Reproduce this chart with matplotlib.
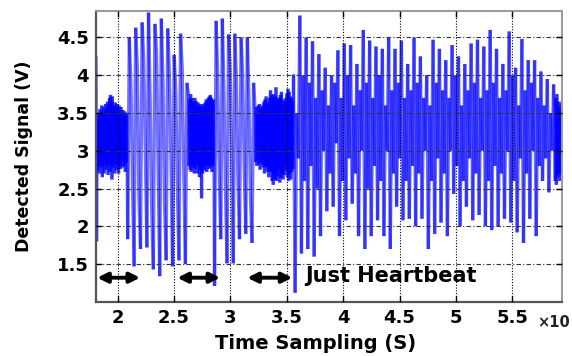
import numpy as np
import matplotlib.pyplot as plt
from matplotlib.collections import LineCollection

# detected signal, stored segment by segment (breathing + heartbeat / heartbeat only)
# each segment: start time, end time (x10 s), sample values in volts
calm1_t = (1.81, 2.09)
calm1_v = [4.25, 1.8, 3.4, 2.75, 3.5, 2.8, 3.45, 2.7, 3.55, 2.85, 3.48, 2.78,
           3.6, 2.65, 3.52, 2.82, 3.58, 2.7, 3.5, 2.9, 3.62, 2.75, 3.55, 2.8,
           3.65, 2.68, 3.6, 2.85, 3.7, 2.72, 3.74, 2.8, 3.66, 2.62, 3.72, 2.78,
           3.6, 2.88, 3.56, 2.7, 3.64, 2.82, 3.58, 2.75, 3.62, 2.9, 3.55, 2.7,
           3.6, 2.8, 3.52, 2.76, 3.58, 2.86, 3.5, 2.78, 3.54, 2.9, 3.48, 2.8,
           3.52, 2.72, 3.46, 2.85, 3.5, 2.8]

active1_t = (2.09, 2.63)
active1_v = [1.83, 4.5, 3.9, 2.6, 1.47, 4.63, 4.1, 2.4, 1.7, 4.7, 4.2, 3.0,
             1.72, 4.83, 3.7, 2.2, 1.43, 4.68, 4.3, 2.8, 1.34, 4.75, 3.9, 2.3,
             1.55, 4.62, 4.0, 2.9, 1.47, 4.27, 3.8, 2.5, 1.55, 4.55, 4.1, 2.7,
             1.5, 3.9]

calm2_t = (2.63, 2.86)
calm2_v = [3.72, 2.8, 3.68, 2.75, 3.75, 2.72, 3.7, 2.82, 3.65, 2.78, 3.62, 2.7,
           3.7, 2.76, 3.66, 2.84, 3.6, 2.7, 3.64, 2.8, 3.58, 2.65, 3.62, 2.75,
           3.6, 2.37, 3.56, 2.7, 3.62, 2.78, 3.58, 2.74, 3.64, 2.8, 3.68, 2.72,
           3.66, 2.82, 3.7, 2.76, 3.72, 2.78, 3.74, 2.85, 3.7, 2.72, 3.66, 2.8,
           3.68, 2.76]

active2_t = (2.86, 3.22)
active2_v = [1.21, 4.72, 4.0, 2.7, 1.83, 4.75, 3.8, 2.5, 1.51, 4.54, 4.1, 2.9,
             1.51, 4.55, 3.9, 2.6, 1.83, 4.5, 4.0, 2.8, 1.9, 4.5, 3.7, 2.4,
             1.78, 3.9]

calm3_t = (3.22, 3.56)
calm3_v = [3.55, 2.85, 3.58, 2.8, 3.5, 2.88, 3.6, 2.82, 3.62, 2.75, 3.55, 2.86,
           3.58, 2.82, 3.6, 2.78, 3.65, 2.7, 3.68, 2.8, 3.72, 2.78, 3.64, 2.72,
           3.6, 2.65, 3.7, 2.75, 3.8, 2.72, 3.74, 2.6, 3.7, 2.55, 3.75, 2.68,
           3.72, 2.62, 3.84, 2.6, 3.7, 2.66, 3.66, 2.75, 3.7, 2.58, 3.74, 2.64,
           3.78, 2.7, 3.68, 2.62, 3.62, 2.68, 3.66, 2.74, 3.7, 2.8, 3.76, 2.65,
           3.82, 2.6, 3.78, 2.7, 3.72, 2.62, 3.7, 2.72, 3.66, 2.76]

# one heartbeat cycle per group of four: peak, trough, secondary peak, secondary dip
active3_t = (3.56, 5.88)
active3_v = [4.01, 1.12, 3.5, 2.9, 4.79, 1.64, 4.0, 2.6, 4.5, 1.7, 3.9, 2.8,
             4.45, 1.6, 3.7, 2.5, 4.28, 1.87, 3.8, 3.0, 4.1, 2.2, 3.6, 2.7,
             4.0, 2.26, 3.9, 3.1, 4.33, 1.87, 3.7, 2.6, 4.42, 2.08, 4.0, 2.9,
             4.4, 2.3, 3.6, 2.7, 4.15, 1.87, 3.8, 3.0, 4.6, 1.7, 3.9, 2.5,
             4.46, 1.87, 3.7, 2.8, 4.38, 2.08, 4.0, 2.6, 4.35, 1.87, 3.6, 3.0,
             4.5, 1.7, 3.8, 2.7, 4.35, 2.26, 3.9, 2.9, 4.46, 2.08, 3.7, 2.6,
             4.15, 2.1, 3.8, 2.8, 4.5, 2.0, 3.9, 2.7, 4.25, 2.1, 3.7, 3.0,
             4.0, 1.7, 3.6, 2.6, 4.47, 1.9, 3.9, 2.9, 4.35, 2.05, 3.8, 2.7,
             4.2, 1.87, 3.7, 3.0, 4.4, 2.43, 4.0, 2.8, 4.25, 2.0, 3.6, 2.6,
             4.15, 2.26, 3.8, 2.9, 4.42, 2.08, 3.9, 2.7, 4.47, 2.15, 3.7, 3.0,
             4.38, 2.0, 3.8, 2.6, 4.6, 1.95, 3.9, 2.8, 4.35, 2.0, 3.7, 2.7,
             4.15, 2.1, 3.8, 3.0, 4.58, 2.05, 4.0, 2.6, 4.1, 1.92, 3.6, 2.9,
             4.48, 1.78, 3.8, 2.7, 4.2, 2.1, 3.9, 3.0, 4.2, 1.87, 3.7, 2.8,
             4.05, 2.6, 3.6, 2.9, 3.95, 2.45, 3.5, 3.0, 3.88]

calm4_t = (5.88, 5.94)
calm4_v = [2.6, 3.7, 2.55, 3.75, 2.65, 3.6, 2.7, 3.65, 2.6, 3.55, 2.68, 3.62]

segments = [(calm1_t, calm1_v), (active1_t, active1_v), (calm2_t, calm2_v),
            (active2_t, active2_v), (calm3_t, calm3_v), (active3_t, active3_v),
            (calm4_t, calm4_v)]

# "just heartbeat" intervals marked with arrows
hb_spans = [(1.82, 2.2), (2.53, 2.91), (3.15, 3.55)]

t_all = []
v_all = []
for (t0, t1), vals in segments:
    t_all.append(np.linspace(t0, t1, len(vals), endpoint=False))
    v_all.append(vals)
t_all = np.concatenate(t_all)
v_all = np.concatenate(v_all)

plt.rcParams['font.family'] = 'DejaVu Sans'
plt.rcParams['font.weight'] = 'bold'

fig = plt.figure(figsize=(5.72, 3.56), dpi=100)
ax = fig.add_axes([0.168, 0.152, 0.8145, 0.817])

# draw sample-to-sample pieces separately so overlapping strokes build up
pts = np.column_stack([t_all, v_all])
pieces = np.stack([pts[:-1], pts[1:]], axis=1)
lc = LineCollection(pieces, colors='#0000ff', linewidths=2.4, alpha=0.55,
                    capstyle='butt', zorder=2)
ax.add_collection(lc)

ax.set_xlim(1.81, 5.94)
ax.set_ylim(1.0, 4.85)
ax.set_xticks([2, 2.5, 3, 3.5, 4, 4.5, 5, 5.5])
ax.set_xticklabels(['2', '2.5', '3', '3.5', '4', '4.5', '5', '5.5'])
ax.set_yticks([1.5, 2, 2.5, 3, 3.5, 4, 4.5])
ax.set_yticklabels(['1.5', '2', '2.5', '3', '3.5', '4', '4.5'])

ax.set_axisbelow(False)
ax.xaxis.grid(True, color='black', linestyle=(0, (1, 1.5)), lw=0.8)
ax.yaxis.grid(True, color='#333333', linestyle=(0, (4, 2, 1, 2)), lw=0.8)

ax.tick_params(direction='in', length=4, width=1, top=True, right=True,
               labelsize=13, pad=5)
for lbl in ax.get_xticklabels() + ax.get_yticklabels():
    lbl.set_fontweight('bold')

for side in ['left', 'bottom']:
    ax.spines[side].set_color('#555555')
    ax.spines[side].set_linewidth(1.6)
for side in ['top', 'right']:
    ax.spines[side].set_color('#999999')
    ax.spines[side].set_linewidth(1.4)

ax.set_xlabel('Time Sampling (S)', fontsize=14, fontweight='bold')
ax.xaxis.set_label_coords(0.47, -0.11)
ax.set_ylabel('Detected Signal (V)', fontsize=12.5, fontweight='bold')
ax.yaxis.set_label_coords(-0.135, 0.5)

# arrows over the heartbeat-only intervals
for a, b in hb_spans:
    ax.annotate('', xy=(a, 1.32), xytext=(b, 1.32),
                arrowprops=dict(arrowstyle='<|-|>', color='black', lw=2.8,
                                mutation_scale=15, shrinkA=0, shrinkB=0),
                zorder=5)
ax.text(3.66, 1.34, 'Just Heartbeat', fontsize=15, fontweight='bold',
        va='center', ha='left', zorder=5)

fig.text(0.997, 0.095, '\u00d710', fontsize=10.5, fontweight='bold',
         ha='right', va='center', color='#222222')

fig.savefig('out.png', dpi=100)
